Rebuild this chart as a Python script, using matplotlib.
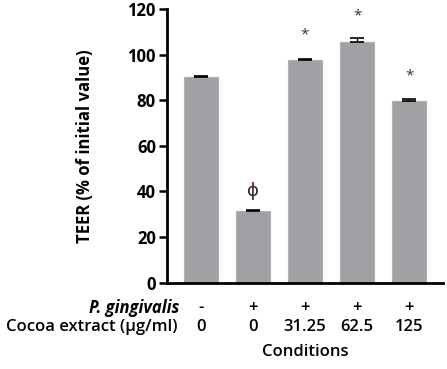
import matplotlib
matplotlib.use("Agg")
import matplotlib.pyplot as plt
from matplotlib.transforms import blended_transform_factory

values = [90.2, 31.4, 97.6, 105.6, 79.7]
errors = [0.6, 0.5, 0.5, 1.5, 0.7]
pg_signs = ["-", "+", "+", "+", "+"]
cocoa = ["0", "0", "31.25", "62.5", "125"]
marks = ["", "ϕ", "*", "*", "*"]
mark_y = [None, 40, 108.5, 117, 90.5]

plt.rcParams['font.family'] = ['Open Sans', 'DejaVu Sans']

fig = plt.figure(figsize=(4.47, 3.69), dpi=100)
ax = fig.add_axes([0.3736, 0.2344, 0.991 - 0.3736, 0.9756 - 0.2344])
x = list(range(len(values)))
ax.bar(x, values, width=0.65, color='#a1a0a5', edgecolor='#b0afb4', linewidth=0.8, zorder=2)
ax.errorbar(x, values, yerr=[[0]*len(errors), errors], fmt='none', ecolor='black',
            elinewidth=1.0, capsize=5, capthick=1.2, zorder=3)
for xi, m, my in zip(x, marks, mark_y):
    if m:
        if m == "ϕ":
            ax.text(xi, my, m, ha='center', va='center', fontsize=13, color='#3a2020',
                    family=['DejaVu Sans'])
        else:
            ax.text(xi, my, m, ha='center', va='center', fontsize=11, color='#333333')

ax.set_xlim(-0.65, 4.65)
ax.set_ylim(0, 120)
ax.set_yticks([0, 20, 40, 60, 80, 100, 120])
ax.spines['top'].set_visible(False)
ax.spines['right'].set_visible(False)
ax.spines['left'].set_linewidth(2)
ax.spines['bottom'].set_linewidth(2)
ax.tick_params(axis='y', direction='out', length=6, width=1.8, labelsize=12, pad=2)
ax.tick_params(axis='x', length=0, labelbottom=False)
for lab in ax.get_yticklabels():
    lab.set_fontweight('bold')
ax.set_ylabel('TEER (% of initial value)', fontsize=12, fontweight='bold', labelpad=24)

tr = blended_transform_factory(ax.transData, fig.transFigure)
ypg = 1 - 308/369
yco = 1 - 327/369
fs = 12
for xi, s, c in zip(x, pg_signs, cocoa):
    ax.text(xi, ypg, s, transform=tr, ha='center', va='center', fontsize=fs, fontweight='semibold')
    ax.text(xi, yco, c, transform=tr, ha='center', va='center', fontsize=fs, fontweight='semibold')
fig.text(179/447, ypg, 'P. gingivalis', ha='right', va='center', fontsize=fs,
         style='italic', fontweight='bold')
fig.text(178/447, yco, 'Cocoa extract (µg/ml)', ha='right', va='center', fontsize=fs,
         fontweight='semibold')
fig.text(305/447, 1 - 352/369, 'Conditions', ha='center', va='center', fontsize=fs,
         fontweight='semibold')

fig.savefig('out.png', dpi=100)
